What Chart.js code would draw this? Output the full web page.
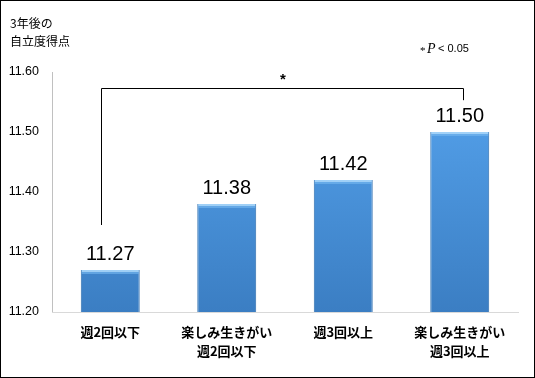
<!DOCTYPE html>
<html><head><meta charset="utf-8">
<script src="https://cdn.jsdelivr.net/npm/chart.js@4"></script>
<style>
html,body{margin:0;padding:0;background:#fff;}
#wrap{width:535px;height:378px;box-sizing:border-box;border:1px solid #000;position:relative;}
canvas{display:block;}
</style></head>
<body><div id="wrap"><canvas id="c" width="533" height="376"></canvas></div>
<script>
const categories = [["週2回以下"], ["楽しみ生きがい", "週2回以下"], ["週3回以上"], ["楽しみ生きがい", "週3回以上"]];
const values = [11.27, 11.38, 11.42, 11.50];
const yTicks = [11.20, 11.30, 11.40, 11.50, 11.60];
const bracket = {from: 0, to: 3, top: 11.573, leftBottom: 11.345, rightBottom: 11.553, label: "*"};

const JP = '"Noto Sans CJK JP", sans-serif';

const overlay = {
  id: 'overlay',
  afterDatasetsDraw(chart) {
    const ctx = chart.ctx, x = chart.scales.x, y = chart.scales.y;
    const meta = chart.getDatasetMeta(0);
    ctx.save();
    // bevel highlight on bar tops
    meta.data.forEach((bar) => {
      const l = bar.x - bar.width / 2, r = bar.x + bar.width / 2;
      ctx.fillStyle = 'rgba(170,215,250,0.9)';
      ctx.fillRect(l + 1, bar.y, r - l - 2, 2);
      ctx.fillStyle = 'rgba(120,185,240,0.6)';
      ctx.fillRect(l + 1, bar.y + 2, r - l - 2, 2);
    });
    // value labels
    ctx.fillStyle = '#000';
    ctx.font = '20px "Liberation Sans", Arial, sans-serif';
    ctx.textAlign = 'center';
    ctx.textBaseline = 'alphabetic';
    meta.data.forEach((bar, i) => {
      ctx.fillText(values[i].toFixed(2), bar.x, bar.y - 10);
    });
    // bracket
    const xl = x.getPixelForValue(bracket.from) - 9;
    const xr = x.getPixelForValue(bracket.to) + 3;
    ctx.strokeStyle = '#000';
    ctx.lineWidth = 1;
    ctx.beginPath();
    ctx.moveTo(Math.round(xl) + 0.5, y.getPixelForValue(bracket.leftBottom));
    ctx.lineTo(Math.round(xl) + 0.5, Math.round(y.getPixelForValue(bracket.top)) + 0.5);
    ctx.lineTo(Math.round(xr) + 0.5, Math.round(y.getPixelForValue(bracket.top)) + 0.5);
    ctx.lineTo(Math.round(xr) + 0.5, y.getPixelForValue(bracket.rightBottom));
    ctx.stroke();
    ctx.font = 'bold 15px "Liberation Sans", Arial, sans-serif';
    ctx.fillText(bracket.label, (xl + xr) / 2 + 1, y.getPixelForValue(bracket.top) - 4);
    // title
    ctx.textAlign = 'left';
    ctx.font = '12px ' + JP;
    ctx.fillText('3年後の', 9, 27);
    ctx.fillText('自立度得点', 9, 45);
    // p note
    ctx.font = '11px "Liberation Serif", serif';
    ctx.fillText('*', 419, 53);
    ctx.font = 'italic 14px "Liberation Serif", serif';
    ctx.fillText('P', 426, 52);
    ctx.font = '11px "Liberation Sans", Arial, sans-serif';
    ctx.fillText('< 0.05', 437, 51);
    ctx.restore();
  }
};

new Chart(document.getElementById('c'), {
  type: 'bar',
  data: {
    labels: categories,
    datasets: [{
      data: values,
      backgroundColor: (c) => {
        const area = c.chart.chartArea;
        if (!area) return '#4a92dc';
        const g = c.chart.ctx.createLinearGradient(0, area.top, 0, area.bottom);
        g.addColorStop(0, '#57a5ef');
        g.addColorStop(1, '#3b7ec3');
        return g;
      },
      borderColor: '#2f6eae',
      borderWidth: {left: 1, right: 1, top: 0, bottom: 0},
      borderSkipped: false,
      categoryPercentage: 1,
      barPercentage: 0.506
    }]
  },
  options: {
    responsive: false,
    animation: false,
    layout: {padding: {top: 71, right: 16, left: 0, bottom: 0}},
    plugins: {legend: {display: false}, tooltip: {enabled: false}},
    scales: {
      y: {
        min: 11.2, max: 11.6,
        afterBuildTicks: (s) => { s.ticks = yTicks.map(v => ({value: v})); },
        afterFit: (s) => { s.width = 51; },
        grid: {display: false, drawTicks: false},
        border: {display: true, color: '#c0c0c0', width: 1},
        ticks: {
          padding: 13,
          color: '#000',
          font: {size: 12.5, family: '"Liberation Sans", Arial, sans-serif'},
          callback: (v) => Number(v).toFixed(2)
        }
      },
      x: {
        afterFit: (s) => { s.height = 65; },
        grid: {display: false, drawTicks: false},
        border: {display: true, color: '#d9d9d9', width: 1},
        ticks: {
          padding: 11,
          color: '#000',
          maxRotation: 0,
          font: {size: 13, weight: 'bold', family: JP, lineHeight: 1.45}
        }
      }
    }
  },
  plugins: [overlay]
});
</script>
</body></html>
